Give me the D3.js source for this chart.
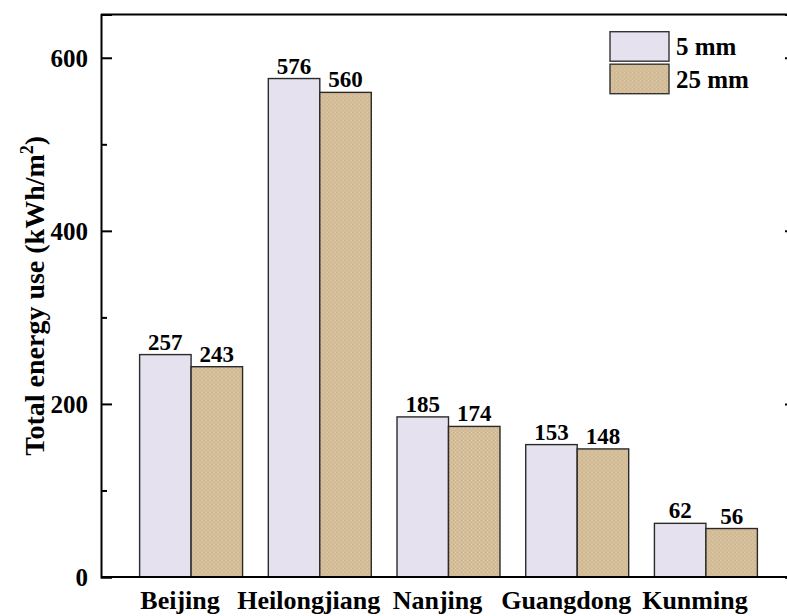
<!DOCTYPE html>
<html>
<head>
<meta charset="utf-8">
<script src="https://cdn.jsdelivr.net/npm/d3@7"></script>
<style>
  html, body { margin: 0; padding: 0; background: #fff; }
  svg { display: block; font-family: "Liberation Serif", "Times New Roman", serif; font-weight: bold; }
</style>
</head>
<body>
<svg id="chart" width="787" height="616"></svg>
<script>
// data
const cities = ['Beijing', 'Heilongjiang', 'Nanjing', 'Guangdong', 'Kunming'];
const series = ['5 mm', '25 mm'];
const thin = [257, 576, 185, 153, 62];   // 5 mm
const thick = [243, 560, 174, 148, 56];  // 25 mm
const yTicks = [0, 200, 400, 600];
const yMinor = [100, 300, 500];

const width = 787, height = 616;
const margin = {left: 101, right: -9, top: 14.5, bottom: 39};

const svg = d3.select('#chart');

// texture for the 25 mm bars
const defs = svg.append('defs');
const pat = defs.append('pattern')
  .attr('id', 'sand')
  .attr('width', 4).attr('height', 4)
  .attr('patternUnits', 'userSpaceOnUse');
pat.append('rect').attr('width', 4).attr('height', 4).attr('fill', '#d5bf9b');
pat.append('rect').attr('x', 0).attr('y', 0).attr('width', 1).attr('height', 1).attr('fill', '#c4ab85');
pat.append('rect').attr('x', 2).attr('y', 2).attr('width', 1).attr('height', 1).attr('fill', '#c9b18c');
pat.append('rect').attr('x', 2).attr('y', 0).attr('width', 1).attr('height', 1).attr('fill', '#ddcaa8');

const colors = {'5 mm': '#e6e1ef', '25 mm': 'url(#sand)'};

const x = d3.scaleBand()
  .domain(cities)
  .range([margin.left, width - margin.right])
  .paddingInner(0.2)
  .paddingOuter(0.3);

const xs = d3.scaleBand()
  .domain(series)
  .range([0, x.bandwidth()]);

const y = d3.scaleLinear()
  .domain([0, 650])
  .range([height - margin.bottom, margin.top]);

const rows = cities.map((c, i) => ({city: c, vals: [
  {key: '5 mm', v: thin[i]},
  {key: '25 mm', v: thick[i]}
]}));

// bars
const g = svg.append('g')
  .selectAll('g')
  .data(rows)
  .join('g')
    .attr('transform', d => `translate(${x(d.city)},0)`);

g.selectAll('rect')
  .data(d => d.vals)
  .join('rect')
    .attr('x', d => xs(d.key))
    .attr('y', d => y(d.v))
    .attr('width', xs.bandwidth())
    .attr('height', d => y(0) - y(d.v))
    .attr('fill', d => colors[d.key])
    .attr('stroke', '#2a2a2a')
    .attr('stroke-width', 1.4);

g.selectAll('text')
  .data(d => d.vals)
  .join('text')
    .attr('x', d => xs(d.key) + xs.bandwidth() / 2)
    .attr('y', d => y(d.v) - 5)
    .attr('text-anchor', 'middle')
    .attr('font-size', 23)
    .attr('fill', '#000')
    .text(d => d.v);

// axes, ticks point inward
svg.append('g')
  .attr('transform', `translate(${margin.left},0)`)
  .call(d3.axisRight(y).tickValues(yTicks).tickSize(11).tickFormat(''));
svg.append('g')
  .attr('transform', `translate(${margin.left},0)`)
  .call(d3.axisRight(y).tickValues(yMinor).tickSize(6).tickFormat(''))
  .call(a => a.select('.domain').remove());
svg.append('g')
  .attr('transform', `translate(${width - margin.right},0)`)
  .call(d3.axisLeft(y).tickValues(yTicks).tickSize(11).tickFormat(''));

svg.selectAll('.domain, .tick line')
  .attr('stroke', '#000')
  .attr('stroke-width', 2);

// y tick labels
svg.append('g')
  .selectAll('text')
  .data(yTicks)
  .join('text')
    .attr('x', margin.left - 13)
    .attr('y', d => y(d))
    .attr('dy', '0.35em')
    .attr('text-anchor', 'end')
    .attr('font-size', 25)
    .text(d => d);

// top and bottom frame
svg.append('line')
  .attr('x1', margin.left).attr('x2', width - margin.right)
  .attr('y1', y.range()[1]).attr('y2', y.range()[1])
  .attr('stroke', '#000').attr('stroke-width', 2);
svg.append('line')
  .attr('x1', margin.left).attr('x2', width - margin.right)
  .attr('y1', y(0)).attr('y2', y(0))
  .attr('stroke', '#000').attr('stroke-width', 2);

// category labels
svg.append('g')
  .selectAll('text')
  .data(cities)
  .join('text')
    .attr('x', d => x(d) + x.bandwidth() / 2 - 11)
    .attr('y', 609)
    .attr('text-anchor', 'middle')
    .attr('font-size', 26)
    .text(d => d);

// y title
const title = svg.append('text')
  .attr('transform', `translate(44,${(y.range()[0] + y.range()[1]) / 2}) rotate(-90)`)
  .attr('text-anchor', 'middle')
  .attr('font-size', 28);
title.append('tspan').text('Total energy use (kWh/m');
title.append('tspan').attr('font-size', 18).attr('dy', -11).text('2');
title.append('tspan').attr('dy', 11).text(')');

// legend
const legend = svg.append('g')
  .selectAll('g')
  .data(series)
  .join('g')
    .attr('transform', (d, i) => `translate(610,${31.7 + i * 32.5})`);
legend.append('rect')
  .attr('width', 59).attr('height', 29.5)
  .attr('fill', d => colors[d])
  .attr('stroke', '#333').attr('stroke-width', 1.4);
legend.append('text')
  .attr('x', 66)
  .attr('y', 23.5)
  .attr('font-size', 25)
  .text(d => d);
</script>
</body>
</html>
